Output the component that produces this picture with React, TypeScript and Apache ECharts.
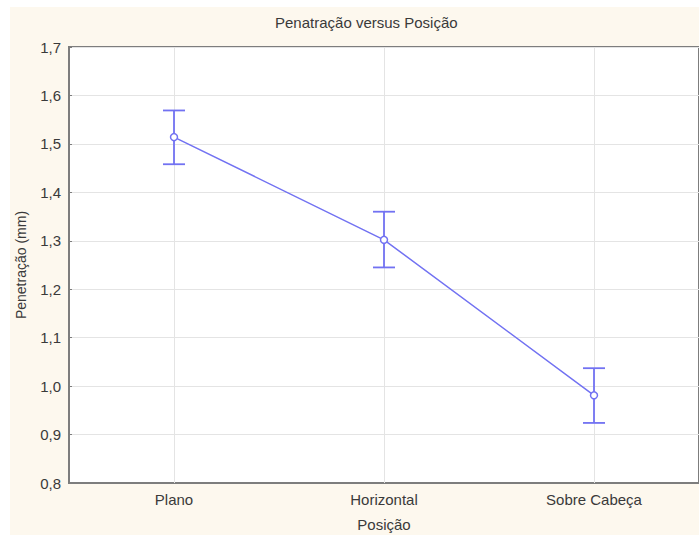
import React, { useEffect, useRef } from "react";
import * as echarts from "echarts";

const categories = ["Plano", "Horizontal", "Sobre Cabeça"];
const means = [1.514, 1.302, 0.981];
const upper = [1.569, 1.360, 1.037];
const lower = [1.458, 1.245, 0.924];
const yTicks = { min: 0.8, max: 1.7, interval: 0.1 };

const FONT = "'Liberation Sans', Arial, sans-serif";
const TEXT = "#3a3a3a";
const BLUE = "#7272f2";

export default function App() {
  const ref = useRef<HTMLDivElement>(null);
  useEffect(() => {
    const chart = echarts.init(ref.current!, null, { renderer: "svg" });
    const errData = categories.map((c, i) => [i, lower[i], upper[i]]);
    chart.setOption({
      animation: false,
      backgroundColor: "#ffffff",
      graphic: [
        {
          type: "rect",
          z: -10,
          silent: true,
          shape: { x: 10, y: 7, width: 689, height: 528 },
          style: { fill: "#fdf8ee" },
        },
      ],
      title: {
        text: "Penatração versus Posição",
        left: 270,
        top: 10,
        textStyle: { fontFamily: FONT, fontSize: 15, fontWeight: "normal", color: TEXT },
      },
      grid: {
        left: 69,
        top: 47,
        width: 640,
        height: 444,
        show: true,
        backgroundColor: "#ffffff",
        borderColor: "#7d7d7d",
        borderWidth: 2,
        containLabel: false,
      },
      xAxis: {
        type: "category",
        data: categories,
        boundaryGap: true,
        name: "Posição",
        nameLocation: "middle",
        nameGap: 34,
        nameTextStyle: { fontFamily: FONT, fontSize: 15, color: TEXT },
        axisLine: { show: true, lineStyle: { color: "#7d7d7d", width: 2 } },
        axisTick: { show: true, inside: true, alignWithLabel: true, length: 3, lineStyle: { color: "#7d7d7d" } },
        axisLabel: { fontFamily: FONT, fontSize: 15, color: TEXT, margin: 9 },
        splitLine: { show: false },
      },
      yAxis: {
        type: "value",
        min: yTicks.min,
        max: yTicks.max,
        interval: yTicks.interval,
        name: "Penetração (mm)",
        nameLocation: "middle",
        nameGap: 41,
        nameRotate: 90,
        nameTextStyle: { fontFamily: FONT, fontSize: 14, color: TEXT },
        axisLine: { show: true, lineStyle: { color: "#7d7d7d", width: 2 } },
        axisTick: { show: true, inside: true, length: 3, lineStyle: { color: "#7d7d7d" } },
        axisLabel: {
          fontFamily: FONT,
          fontSize: 15,
          color: TEXT,
          margin: 8,
          formatter: (v: number) => v.toFixed(1).replace(".", ","),
        },
        splitLine: { show: true, lineStyle: { color: "#e4e4e4", width: 1 } },
      },
      series: [
        {
          type: "custom",
          data: errData,
          z: 3,
          renderItem: (params: any, api: any) => {
            const x = api.value(0);
            const lo = api.coord([x, api.value(1)]);
            const hi = api.coord([x, api.value(2)]);
            const hw = 11;
            const style = { stroke: BLUE, lineWidth: 1.8 };
            return {
              type: "group",
              children: [
                { type: "line", shape: { x1: hi[0], y1: hi[1], x2: lo[0], y2: lo[1] }, style },
                { type: "line", shape: { x1: hi[0] - hw, y1: hi[1], x2: hi[0] + hw, y2: hi[1] }, style },
                { type: "line", shape: { x1: lo[0] - hw, y1: lo[1], x2: lo[0] + hw, y2: lo[1] }, style },
              ],
            };
          },
        },
        {
          type: "line",
          data: means,
          z: 4,
          symbol: "circle",
          symbolSize: 7,
          itemStyle: { color: "#ffffff", borderColor: BLUE, borderWidth: 1.5 },
          lineStyle: { color: BLUE, width: 1.5 },
          markLine: {
            silent: true,
            symbol: "none",
            label: { show: false },
            z: 1,
            lineStyle: { color: "#e4e4e4", width: 1, type: "solid" },
            data: categories.map((c) => ({ xAxis: c })),
          },
        },
      ],
    });
    return () => chart.dispose();
  }, []);
  return (
    <div
      ref={ref}
      style={{ position: "fixed", left: 0, top: 0, width: 699, height: 537 }}
    />
  );
}
